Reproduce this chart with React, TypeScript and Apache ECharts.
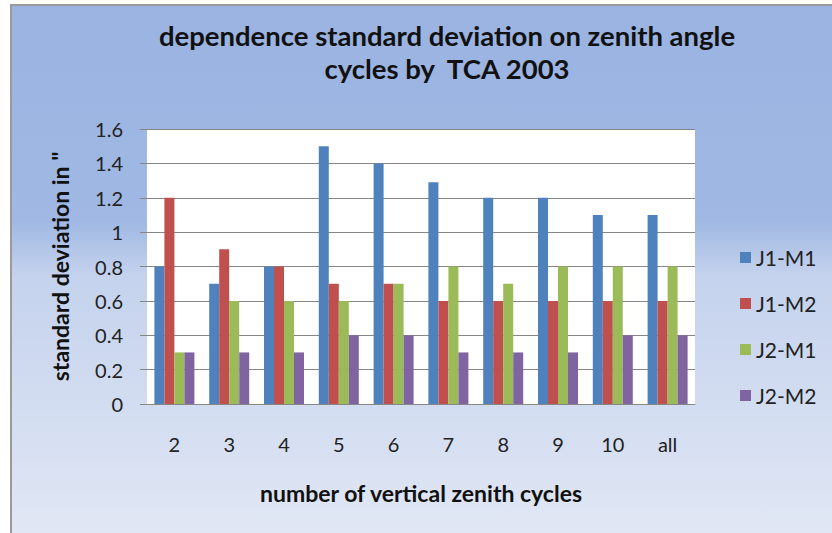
import React, { useEffect, useRef } from "react";
import * as echarts from "echarts";

const categories = ["2", "3", "4", "5", "6", "7", "8", "9", "10", "all"];
const seriesNames = ["J1-M1", "J1-M2", "J2-M1", "J2-M2"];
const j1m1 = [0.8, 0.7, 0.8, 1.5, 1.4, 1.29, 1.2, 1.2, 1.1, 1.1];
const j1m2 = [1.2, 0.9, 0.8, 0.7, 0.7, 0.6, 0.6, 0.6, 0.6, 0.6];
const j2m1 = [0.3, 0.6, 0.6, 0.6, 0.7, 0.8, 0.7, 0.8, 0.8, 0.8];
const j2m2 = [0.3, 0.3, 0.3, 0.4, 0.4, 0.3, 0.3, 0.3, 0.4, 0.4];
const colors = ["#4F81BD", "#C0504D", "#9BBB59", "#8064A2"];

const titleText = "dependence standard deviation on zenith angle\ncycles by  TCA 2003";
const xName = "number of vertical zenith cycles";
const yName = 'standard deviation in "';

const FONT = "Lato";

export default function App() {
  const ref = useRef<HTMLDivElement>(null);
  useEffect(() => {
    if (!ref.current) return;
    const chart = echarts.init(ref.current, undefined, { renderer: "svg" });
    const values = [j1m1, j1m2, j2m1, j2m2];
    chart.setOption({
      animation: false,
      color: colors,
      graphic: [
        {
          type: "rect",
          z: -10,
          silent: true,
          shape: { x: 11, y: 5, width: 830, height: 540 },
          style: {
            fill: new echarts.graphic.LinearGradient(0, 0, 0, 1, [
              { offset: 0, color: "#9ab3e1" },
              { offset: 0.4, color: "#a0b8e3" },
              { offset: 0.5, color: "#c4d2ed" },
              { offset: 1, color: "#e2e8f5" },
            ]),
            stroke: "#9a9a9a",
            lineWidth: 2,
          },
        },
        {
          type: "text",
          x: 447,
          y: 19,
          style: {
            text: titleText,
            fill: "#111",
            font: `bold 27.5px ${FONT}`,
            textAlign: "center",
            textVerticalAlign: "top",
            lineHeight: 33,
          },
        },
      ],
      grid: {
        left: 147,
        right: 137,
        top: 129,
        bottom: 129,
        show: true,
        backgroundColor: "#ffffff",
        borderWidth: 0,
      },
      legend: {
        orient: "vertical",
        left: 735,
        top: 242,
        itemWidth: 11,
        itemHeight: 11,
        itemGap: 25,
        icon: "rect",
        data: seriesNames,
        textStyle: { fontFamily: FONT, fontSize: 21, color: "#222", lineHeight: 21 },
      },
      xAxis: {
        type: "category",
        data: categories,
        name: xName,
        nameLocation: "middle",
        nameGap: 77,
        nameTextStyle: { fontFamily: FONT, fontSize: 23, fontWeight: "bold", color: "#111" },
        axisLine: { lineStyle: { color: "#868686", width: 1 } },
        axisTick: { show: false },
        axisLabel: { fontFamily: FONT, fontSize: 20, color: "#222", margin: 30 },
      },
      yAxis: {
        type: "value",
        min: 0,
        max: 1.6,
        interval: 0.2,
        name: yName,
        nameLocation: "middle",
        nameGap: 76,
        nameTextStyle: { fontFamily: FONT, fontSize: 23, fontWeight: "bold", color: "#111" },
        axisLine: { show: false },
        axisTick: { show: true, inside: false, length: 7, lineStyle: { color: "#868686" } },
        splitLine: { lineStyle: { color: "#868686", width: 1 } },
        axisLabel: { fontFamily: FONT, fontSize: 20, color: "#222", margin: 24 },
      },
      series: seriesNames.map((name, i) => ({
        name,
        type: "bar",
        data: values[i],
        barWidth: 10,
        barGap: "0%",
        itemStyle: { color: colors[i] },
      })),
    });
    return () => chart.dispose();
  }, []);
  return (
    <div
      ref={ref}
      style={{ position: "fixed", left: 0, top: 0, width: 832, height: 533, background: "#fff" }}
    />
  );
}
